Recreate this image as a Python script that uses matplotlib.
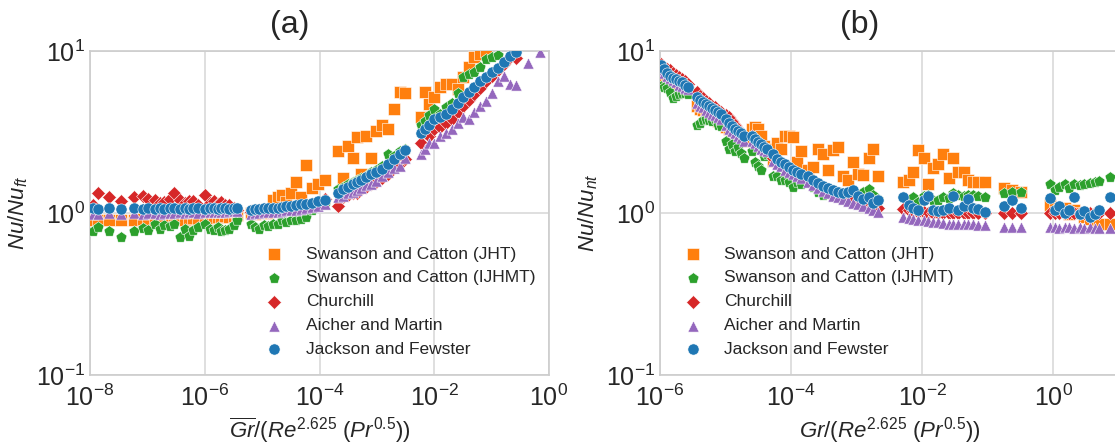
import numpy as np
import matplotlib
matplotlib.use("Agg")
import matplotlib.pyplot as plt
import seaborn as sns

# ---- panel (a): log10 of Gr_bar/(Re^2.625 Pr^0.5) and Nu/Nu_ft
xa_exp = [-7.95, -7.86, -7.67, -7.46, -7.23, -7.08, -6.99, -6.87, -6.78, -6.71, -6.61, -6.54, -6.43,
          -6.34, -6.28, -6.21, -6.12, -6.00, -5.91, -5.84, -5.77, -5.72, -5.65, -5.58, -5.49, -5.44,
          -5.20, -5.13, -5.06, -4.97, -4.90, -4.81, -4.72, -4.66, -4.59, -4.50, -4.41, -4.32, -4.24,
          -4.13, -4.03, -3.91,
          -3.68, -3.59, -3.50, -3.42, -3.35, -3.28, -3.19, -3.10, -3.02, -2.91, -2.81, -2.70, -2.60, -2.51,
          -2.23, -2.16, -2.09, -2.01, -1.90, -1.80, -1.69, -1.59, -1.50, -1.40, -1.31, -1.21, -1.10,
          -1.00, -0.89, -0.79, -0.68, -0.58, -0.37, -0.16]
nan = np.nan
a_jht = [0.91, 0.90, 0.91, 0.90, 0.91, 0.92, 0.91, 0.90, 0.91, 0.92, 0.91, 0.91, 0.92,
         0.91, 0.92, 0.93, 0.92, 0.93, 0.94, 0.93, 0.94, 0.95, 0.96, 0.95, 0.96, 0.97,
         1.00, 0.98, 1.02, 1.05, 1.00, 1.20, 1.25, 1.30, 1.17, 1.33, 1.55, 1.25, 1.98, 1.43, 1.50, 1.60,
         2.40, 1.65, 2.60, 2.20, 2.95, 1.75, 3.00, 2.20, 3.20, 3.50, 3.30, 4.40, 5.60, 5.50,
         3.90, 5.60, 4.70, 5.20, 6.00, 6.30, 6.30, 5.80, 6.90, 8.00, 9.20, 9.60, 10.0,
         nan, nan, nan, nan, nan, nan, nan]
a_ijhmt = [0.77, 0.82, 0.77, 0.71, 0.77, 0.81, 0.79, 0.85, 0.80, 0.84, 0.83, 0.86, 0.71,
           0.80, 0.72, 0.78, 0.82, 0.85, 0.80, 0.78, 0.82, 0.77, 0.79, 0.80, 0.84, 0.90,
           0.86, 0.82, 0.80, 0.84, 0.83, 0.86, 0.85, 0.90, 0.88, 0.90, 0.91, 0.92, 0.95, 1.05, 1.10, 1.13,
           1.40, 1.45, 1.50, 1.55, 1.60, 1.65, 1.70, 1.78, 1.85, 1.95, 2.30, 2.25, 2.40, 2.50,
           3.50, 3.70, 4.00, 4.40, 4.10, 4.50, 4.80, 5.50, 6.90, 7.20, 7.40, 8.00, 8.90,
           9.20, 9.50, nan, nan, nan, nan, nan]
a_church = [1.12, 1.33, 1.26, 1.18, 1.26, 1.27, 1.22, 1.20, 1.15, 1.17, 1.22, 1.33, 1.20,
            1.15, 1.18, 1.18, 1.12, 1.30, 1.15, 1.18, 1.13, 1.17, 1.12, 1.12, 1.07, 1.05,
            1.02, 1.03, 1.04, 1.05, 1.02, 1.06, 1.04, 1.07, 1.05, 1.08, 1.10, 1.08, 1.12, 1.13, 1.15, 1.22,
            1.10, 1.25, 1.30, 1.33, 1.33, 1.40, 1.45, 1.50, 1.55, 1.65, 1.75, 1.93, 2.00, 2.15,
            2.70, 3.10, 3.00, 3.30, 3.40, 3.60, 3.80, 4.20, 4.60, 5.00, 5.40, 5.90, 6.50,
            7.00, 7.60, 8.30, 9.20, 9.10, nan, nan]
a_aicher = [0.99, 0.99, 1.00, 0.99, 1.00, 0.99, 1.00, 1.00, 0.99, 1.00, 1.00, 1.00, 1.01,
            1.00, 1.01, 1.01, 1.00, 1.01, 1.01, 1.02, 1.01, 1.02, 1.02, 1.03, 1.03, 1.03,
            0.99, 1.00, 1.00, 1.01, 1.01, 1.02, 1.02, 1.03, 1.04, 1.04, 1.05, 1.06, 1.07, 1.09, 1.10, 1.13,
            1.25, 1.28, 1.32, 1.35, 1.38, 1.42, 1.48, 1.52, 1.58, 1.70, 1.80, 1.90, 1.95, 2.20,
            2.30, 2.50, 2.70, 2.70, 3.00, 3.10, 3.30, 3.60, 3.90, 3.80, 4.20, 4.60, 4.90,
            5.50, 6.50, 7.00, 6.30, 6.20, 8.40, 9.80]
a_jackson = [1.07, 1.06, 1.07, 1.06, 1.07, 1.06, 1.07, 1.06, 1.07, 1.06, 1.07, 1.07, 1.06,
             1.07, 1.06, 1.07, 1.07, 1.06, 1.07, 1.07, 1.06, 1.07, 1.07, 1.06, 1.07, 1.08,
             1.05, 1.06, 1.06, 1.07, 1.07, 1.08, 1.08, 1.09, 1.10, 1.10, 1.12, 1.13, 1.14, 1.16, 1.18, 1.21,
             1.33, 1.40, 1.45, 1.50, 1.55, 1.60, 1.67, 1.75, 1.80, 1.88, 2.00, 2.15, 2.30, 2.45,
             3.10, 3.30, 3.50, 3.80, 3.90, 4.10, 4.40, 4.80, 5.20, 5.60, 6.00, 6.50, 6.90,
             7.40, 7.90, 8.60, 9.30, 9.80, nan, nan]

# ---- panel (b): log10 of Gr/(Re^2.625 Pr^0.5) and Nu/Nu_nt
xb_exp = [-5.98, -5.94, -5.89, -5.85, -5.80, -5.76, -5.71, -5.66, -5.62, -5.57,
          -5.44, -5.39, -5.34, -5.30, -5.25, -5.21, -5.16, -5.11, -5.07,
          -4.99, -4.95, -4.90, -4.85, -4.81, -4.76, -4.72,
          -4.60, -4.55, -4.50, -4.46, -4.41, -4.37,
          -4.27, -4.21, -4.15, -4.09, -4.03, -3.97, -3.91, -3.85,
          -3.74, -3.66, -3.59, -3.51, -3.44, -3.36, -3.28, -3.21, -3.13, -3.05, -2.98, -2.90, -2.82,
          -2.75, -2.67,
          -2.29, -2.21, -2.14, -2.06, -1.98, -1.91, -1.83, -1.76, -1.68, -1.60, -1.53, -1.45, -1.37,
          -1.30, -1.22, -1.15, -1.04,
          -0.75, -0.63, -0.50,
          -0.06, 0.02, 0.09, 0.17, 0.24, 0.32, 0.40, 0.47, 0.55, 0.63, 0.70,
          0.87]
b_jht = [7.0, 6.9, 6.7, 6.5, 6.3, 6.2, 6.0, 5.9, 5.7, 5.6,
         4.6, 4.4, 4.3, 4.1, 4.0, 3.9, 3.8, 3.7, 3.6,
         3.4, 3.3, 3.2, 3.1, 3.0, 2.9, 2.8,
         3.3, 3.4, 3.3, 3.0, 2.6, 2.5,
         2.1, 2.7, 2.5, 3.0, 3.0, 2.95, 2.05, 2.4,
         1.85, 1.93, 2.5, 2.3, 1.85, 2.45, 2.55, 1.7, 1.6, 2.05, 1.75, 1.72, 2.2, 2.5, 1.7,
         1.55, 1.6, 1.8, 2.45, 2.2, 1.5, 1.9, 2.0, 2.3, 1.65, 2.2, 1.8, 1.8, 1.6, 1.55, 1.55, 1.55,
         1.42, 1.38, 1.35,
         1.12, 1.08, 1.05, 1.08, 0.98, 1.05, 1.0, 0.95, 0.92, 0.9, 0.85,
         0.85]
b_ijhmt = [6.1, 6.0, 5.9, 5.6, 5.1, 5.3, 5.4, 5.5, 5.5, 5.4,
           3.5, 3.6, 3.75, 3.8, 3.75, 3.7, 3.8, 3.5, 3.45,
           2.8, 2.5, 2.65, 2.4, 2.55, 2.35, 2.2,
           2.4, 2.05, 1.95, 1.85, 2.25, 2.3,
           1.7, 1.68, 1.6, 1.6, 1.55, 1.45, 1.55, 1.5,
           1.55, 1.45, 1.35, 1.3, 1.32, 1.28, 1.3, 1.25, 1.3, 1.35, 1.3, 1.35, 1.4, 1.3, 1.22,
           1.25, 1.2, 1.25, 1.17, 1.27, 1.3, 1.2, 1.2, 1.25, 1.24, 1.33, 1.3, 1.28, 1.3, 1.3, 1.28, 1.25,
           1.33, 1.35, 1.35,
           1.5, 1.38, 1.45, 1.5, 1.42, 1.52, 1.48, 1.5, 1.53, 1.55, 1.58,
           1.67]
b_church = [8.3, 7.9, 7.7, 7.6, 7.3, 7.1, 6.9, 6.7, 6.5, 6.3,
            5.6, 5.3, 5.1, 4.9, 4.75, 4.6, 4.5, 4.35, 4.2,
            4.0, 3.9, 3.7, 3.5, 3.3, 3.1, 3.0,
            3.0, 2.85, 2.7, 2.6, 2.5, 2.45,
            2.2, 2.1, 2.0, 1.92, 1.85, 1.78, 1.72, 1.68,
            1.6, 1.5, 1.45, 1.4, 1.35, 1.3, 1.27, 1.25, 1.22, 1.2, 1.17, 1.15, 1.12, 1.1, 1.07,
            1.06, 1.04, 1.03, 1.02, 1.01, 1.0, 1.0, 1.0, 1.0, 1.0, 1.0, 1.0, 1.0, 1.0, 1.0, 1.0, 1.0,
            1.0, 1.0, 1.0,
            1.0, 1.0, 1.0, 1.0, 1.0, 1.0, 1.0, 1.0, 1.0, 1.0, 1.0,
            1.0]
b_aicher = [7.6, 7.3, 7.0, 6.8, 6.6, 6.4, 6.2, 6.1, 5.9, 5.8,
            4.8, 4.6, 4.5, 4.35, 4.2, 4.1, 4.0, 3.9, 3.8,
            3.5, 3.3, 3.2, 3.1, 3.0, 2.9, 2.8,
            2.8, 2.7, 2.6, 2.5, 2.45, 2.4,
            2.1, 2.0, 1.95, 1.85, 1.8, 1.75, 1.7, 1.65,
            1.55, 1.48, 1.42, 1.37, 1.32, 1.28, 1.25, 1.22, 1.19, 1.16, 1.13, 1.1, 1.08, 1.05, 1.02,
            0.95, 0.93, 0.92, 0.91, 0.9, 0.89, 0.88, 0.88, 0.87, 0.86, 0.86, 0.86, 0.85, 0.85, 0.85,
            0.84, 0.84,
            0.82, 0.82, 0.82,
            0.82, 0.82, 0.81, 0.82, 0.82, 0.81, 0.82, 0.81, 0.82, 0.81, 0.81,
            0.81]
b_jackson = [8.2, 7.7, 7.3, 7.0, 6.8, 6.7, 6.5, 6.4, 6.2, 6.0,
             5.2, 5.0, 4.85, 4.7, 4.55, 4.45, 4.35, 4.2, 4.1,
             3.8, 3.6, 3.45, 3.3, 3.2, 3.1, 3.0,
             3.0, 2.85, 2.75, 2.65, 2.55, 2.5,
             2.3, 2.15, 2.05, 2.0, 1.92, 1.85, 1.8, 1.75,
             1.68, 1.6, 1.53, 1.47, 1.42, 1.38, 1.35, 1.32, 1.35, 1.38, 1.28, 1.22, 1.25, 1.15, 1.2,
             1.25, 1.12, 1.08, 1.05, 1.2, 1.28, 1.05, 1.03, 1.05, 1.08, 1.28, 1.05, 1.1, 1.22, 1.08,
             1.06, 1.02,
             1.1, 1.2, 1.07,
             1.24, 1.05, 1.1, 1.0, 1.05, 1.25, 0.98, 1.03, 0.94, 0.98, 1.05,
             1.25]

labels = ["Swanson and Catton (JHT)", "Swanson and Catton (IJHMT)", "Churchill",
          "Aicher and Martin", "Jackson and Fewster"]
markers = ["s", "p", "D", "^", "o"]
colors = ["C1", "C2", "C3", "C4", "C0"]
sizes = [65, 70, 50, 65, 65]

sns.set_style("whitegrid")
plt.rcParams["font.family"] = ["Liberation Sans", "DejaVu Sans"]
plt.rcParams["mathtext.fontset"] = "custom"
plt.rcParams["mathtext.rm"] = "Liberation Sans"
plt.rcParams["mathtext.it"] = "Liberation Sans:italic"
plt.rcParams["mathtext.bf"] = "Liberation Sans:bold"

fig = plt.figure(figsize=(11.15, 4.47), dpi=100)
ax1 = fig.add_axes([0.0807, 0.1611, 0.4117, 0.7248])
ax2 = fig.add_axes([0.5919, 0.1611, 0.4117, 0.7248])

panels = [
    (ax1, xa_exp, [a_jht, a_ijhmt, a_church, a_aicher, a_jackson], "(a)",
     r"$\overline{Gr}/(Re^{2.625}\ (Pr^{0.5}))$", r"$Nu/Nu_{ft}$", (1e-8, 1e0),
     [1e-8, 1e-6, 1e-4, 1e-2, 1e0], (0.33, 0.445)),
    (ax2, xb_exp, [b_jht, b_ijhmt, b_church, b_aicher, b_jackson], "(b)",
     r"$Gr/(Re^{2.625}\ (Pr^{0.5}))$", r"$Nu/Nu_{nt}$", (1e-6, 1e1),
     [1e-6, 1e-4, 1e-2, 1e0], (0.0, 0.445)),
]

for ax, xexp, ys, title, xlab, ylab, xlim, xt, legpos in panels:
    x = 10.0 ** np.array(xexp)
    for y, lab, m, c, s in zip(ys, labels, markers, colors, sizes):
        ax.scatter(x, y, s=s, marker=m, color=c, edgecolor="white", linewidth=0.4,
                   label=lab, zorder=3)
    ax.set_xscale("log")
    ax.set_yscale("log")
    ax.set_xlim(*xlim)
    ax.set_ylim(0.1, 10)
    ax.set_xticks(xt)
    ax.set_yticks([0.1, 1, 10])
    ax.minorticks_off()
    ax.tick_params(labelsize=18, length=0)
    ax.tick_params(axis="x", pad=7)
    ax.grid(True, color="0.85", linewidth=1.2)
    for sp in ax.spines.values():
        sp.set_color("0.8")
        sp.set_linewidth(1.2)
    ax.set_xlabel(xlab, fontsize=16, labelpad=3)
    ax.set_ylabel(ylab, fontsize=16)
    ax.set_title(title, fontsize=23, x=0.435, pad=13)
    ax.legend(loc="upper left", bbox_to_anchor=legpos, fontsize=12.5, frameon=False,
              scatterpoints=1)

fig.savefig("out.png", dpi=100)
